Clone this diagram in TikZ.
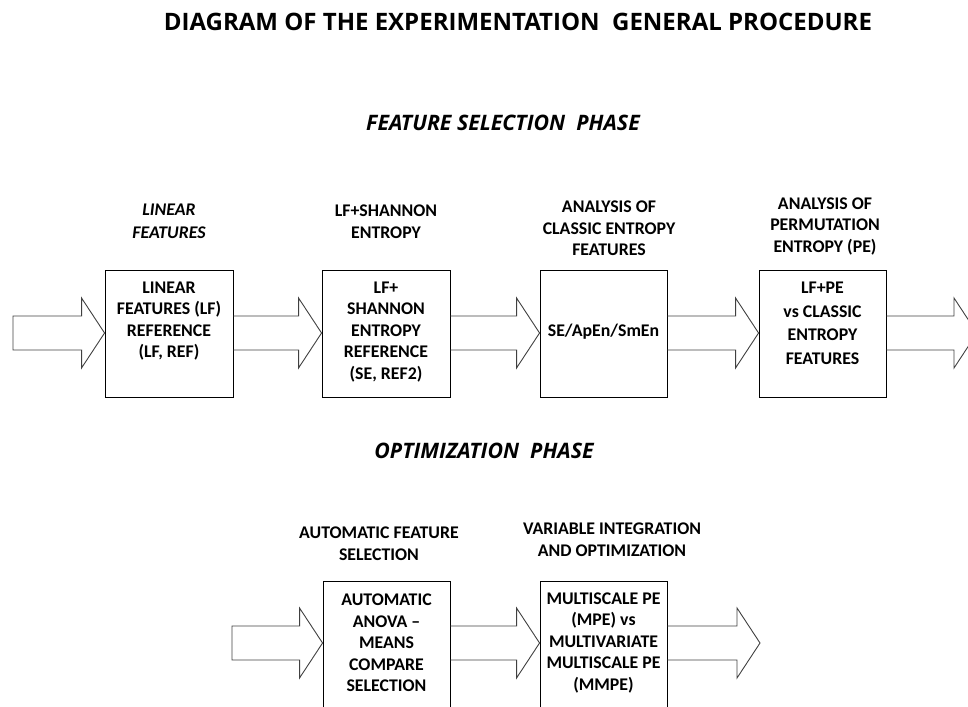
\documentclass[tikz,border=0pt]{standalone}
\usepackage{fontspec}
\setmainfont{Carlito}
\newfontfamily\headfont{Open Sans}
\usetikzlibrary{calc}
\newcommand\blockarrow[3][]{%
  \draw[arr] ($#2+(0,-17)$) -- ($#3+(-23,-17)$) -- ($#3+(-23,-35)$) -- #3
    -- ($#3+(-23,35)$) -- ($#3+(-23,17)$) -- ($#2+(0,17)$) #1;}
\begin{document}
\begin{tikzpicture}[x=1pt,y=-1pt,
  box/.style={draw=black, line width=0.9pt, minimum width=127pt, minimum height=127pt, inner sep=0pt},
  boxtxt/.style={align=center, inner sep=0pt, font=\fontsize{17.8}{21.5}\selectfont\bfseries},
  lbl/.style={align=center, inner sep=0pt, font=\fontsize{17.8}{21.5}\selectfont\bfseries},
  arr/.style={draw=black!75, line width=0.9pt, line join=miter},
  title/.style={inner sep=0pt, font=\headfont\fontsize{24}{28}\selectfont\bfseries},
  phase/.style={inner sep=0pt, font=\headfont\fontsize{21.3}{25}\selectfont\bfseries\itshape}]
\useasboundingbox (0,0) rectangle (968,706);
\clip (0,0) rectangle (968,706);

% titles
\node[title] (t) at (518,22) {DIAGRAM OF THE EXPERIMENTATION\ \ GENERAL PROCEDURE};
\node[phase] (p1) at (503,123) {FEATURE SELECTION\ \ PHASE};
\node[phase] (p2) at (484,451) {OPTIMIZATION\ \ PHASE};

% top row boxes
\node[box, minimum width=128pt] (b1) at (169,333.5) {};
\node[box, minimum width=128pt] (b2) at (386,333.5) {};
\node[box] (b3) at (603.5,333.5) {};
\node[box] (b4) at (822.5,333.5) {};

\node[boxtxt] (x1) at (169,321) {LINEAR\\FEATURES (LF)\\REFERENCE\\(LF, REF)};
\node[boxtxt] (x2) at (386,332) {LF+\\SHANNON\\ENTROPY\\REFERENCE\\(SE, REF2)};
\node[boxtxt] (x3) at (603.5,332) {SE/ApEn/SmEn};
\node[boxtxt, font=\fontsize{17.8}{23.5}\selectfont\bfseries] (x4) at (822.5,323.5) {LF+PE\\vs CLASSIC\\ENTROPY\\FEATURES};

% labels above
\node[lbl, font=\fontsize{17.8}{23}\selectfont\bfseries\itshape] (l1) at (169,221.5) {LINEAR\\FEATURES};
\node[lbl] (l2) at (386,221.5) {LF+SHANNON\\ENTROPY};
\node[lbl] (l3) at (609,228.5) {ANALYSIS OF\\CLASSIC ENTROPY\\FEATURES};
\node[lbl] (l4) at (825,226.5) {ANALYSIS OF\\PERMUTATION\\ENTROPY (PE)};

% bottom row boxes
\node[box, minimum height=150pt] (c1) at (386.5,656) {};
\node[box, minimum height=150pt] (c2) at (603.5,656) {};
\node[boxtxt] (y1) at (386.5,643) {AUTOMATIC\\ANOVA --\\MEANS\\COMPARE\\SELECTION};
\node[boxtxt] (y2) at (603.5,643) {MULTISCALE PE\\(MPE) vs\\MULTIVARIATE\\MULTISCALE PE\\(MMPE)};
\node[lbl] (m1) at (379,543.5) {AUTOMATIC FEATURE\\SELECTION};
\node[lbl] (m2) at (612,539.5) {VARIABLE INTEGRATION\\AND OPTIMIZATION};

% arrows
\coordinate (ytop) at (0,333);
\coordinate (ybot) at (0,643);
\coordinate (in1) at (13,333);
\coordinate (out1) at (977,333);
\coordinate (in2) at (232,643);
\coordinate (out2) at (760,643);

\blockarrow[-- cycle]{(in1)}{(b1.west |- ytop)}
\blockarrow{(b1.east |- ytop)}{(b2.west |- ytop)}
\blockarrow{(b2.east |- ytop)}{(b3.west |- ytop)}
\blockarrow{(b3.east |- ytop)}{(b4.west |- ytop)}
\blockarrow{(b4.east |- ytop)}{(out1)}

\blockarrow[-- cycle]{(in2)}{(c1.west |- ybot)}
\blockarrow{(c1.east |- ybot)}{(c2.west |- ybot)}
\blockarrow{(c2.east |- ybot)}{(out2)}
\end{tikzpicture}
\end{document}
